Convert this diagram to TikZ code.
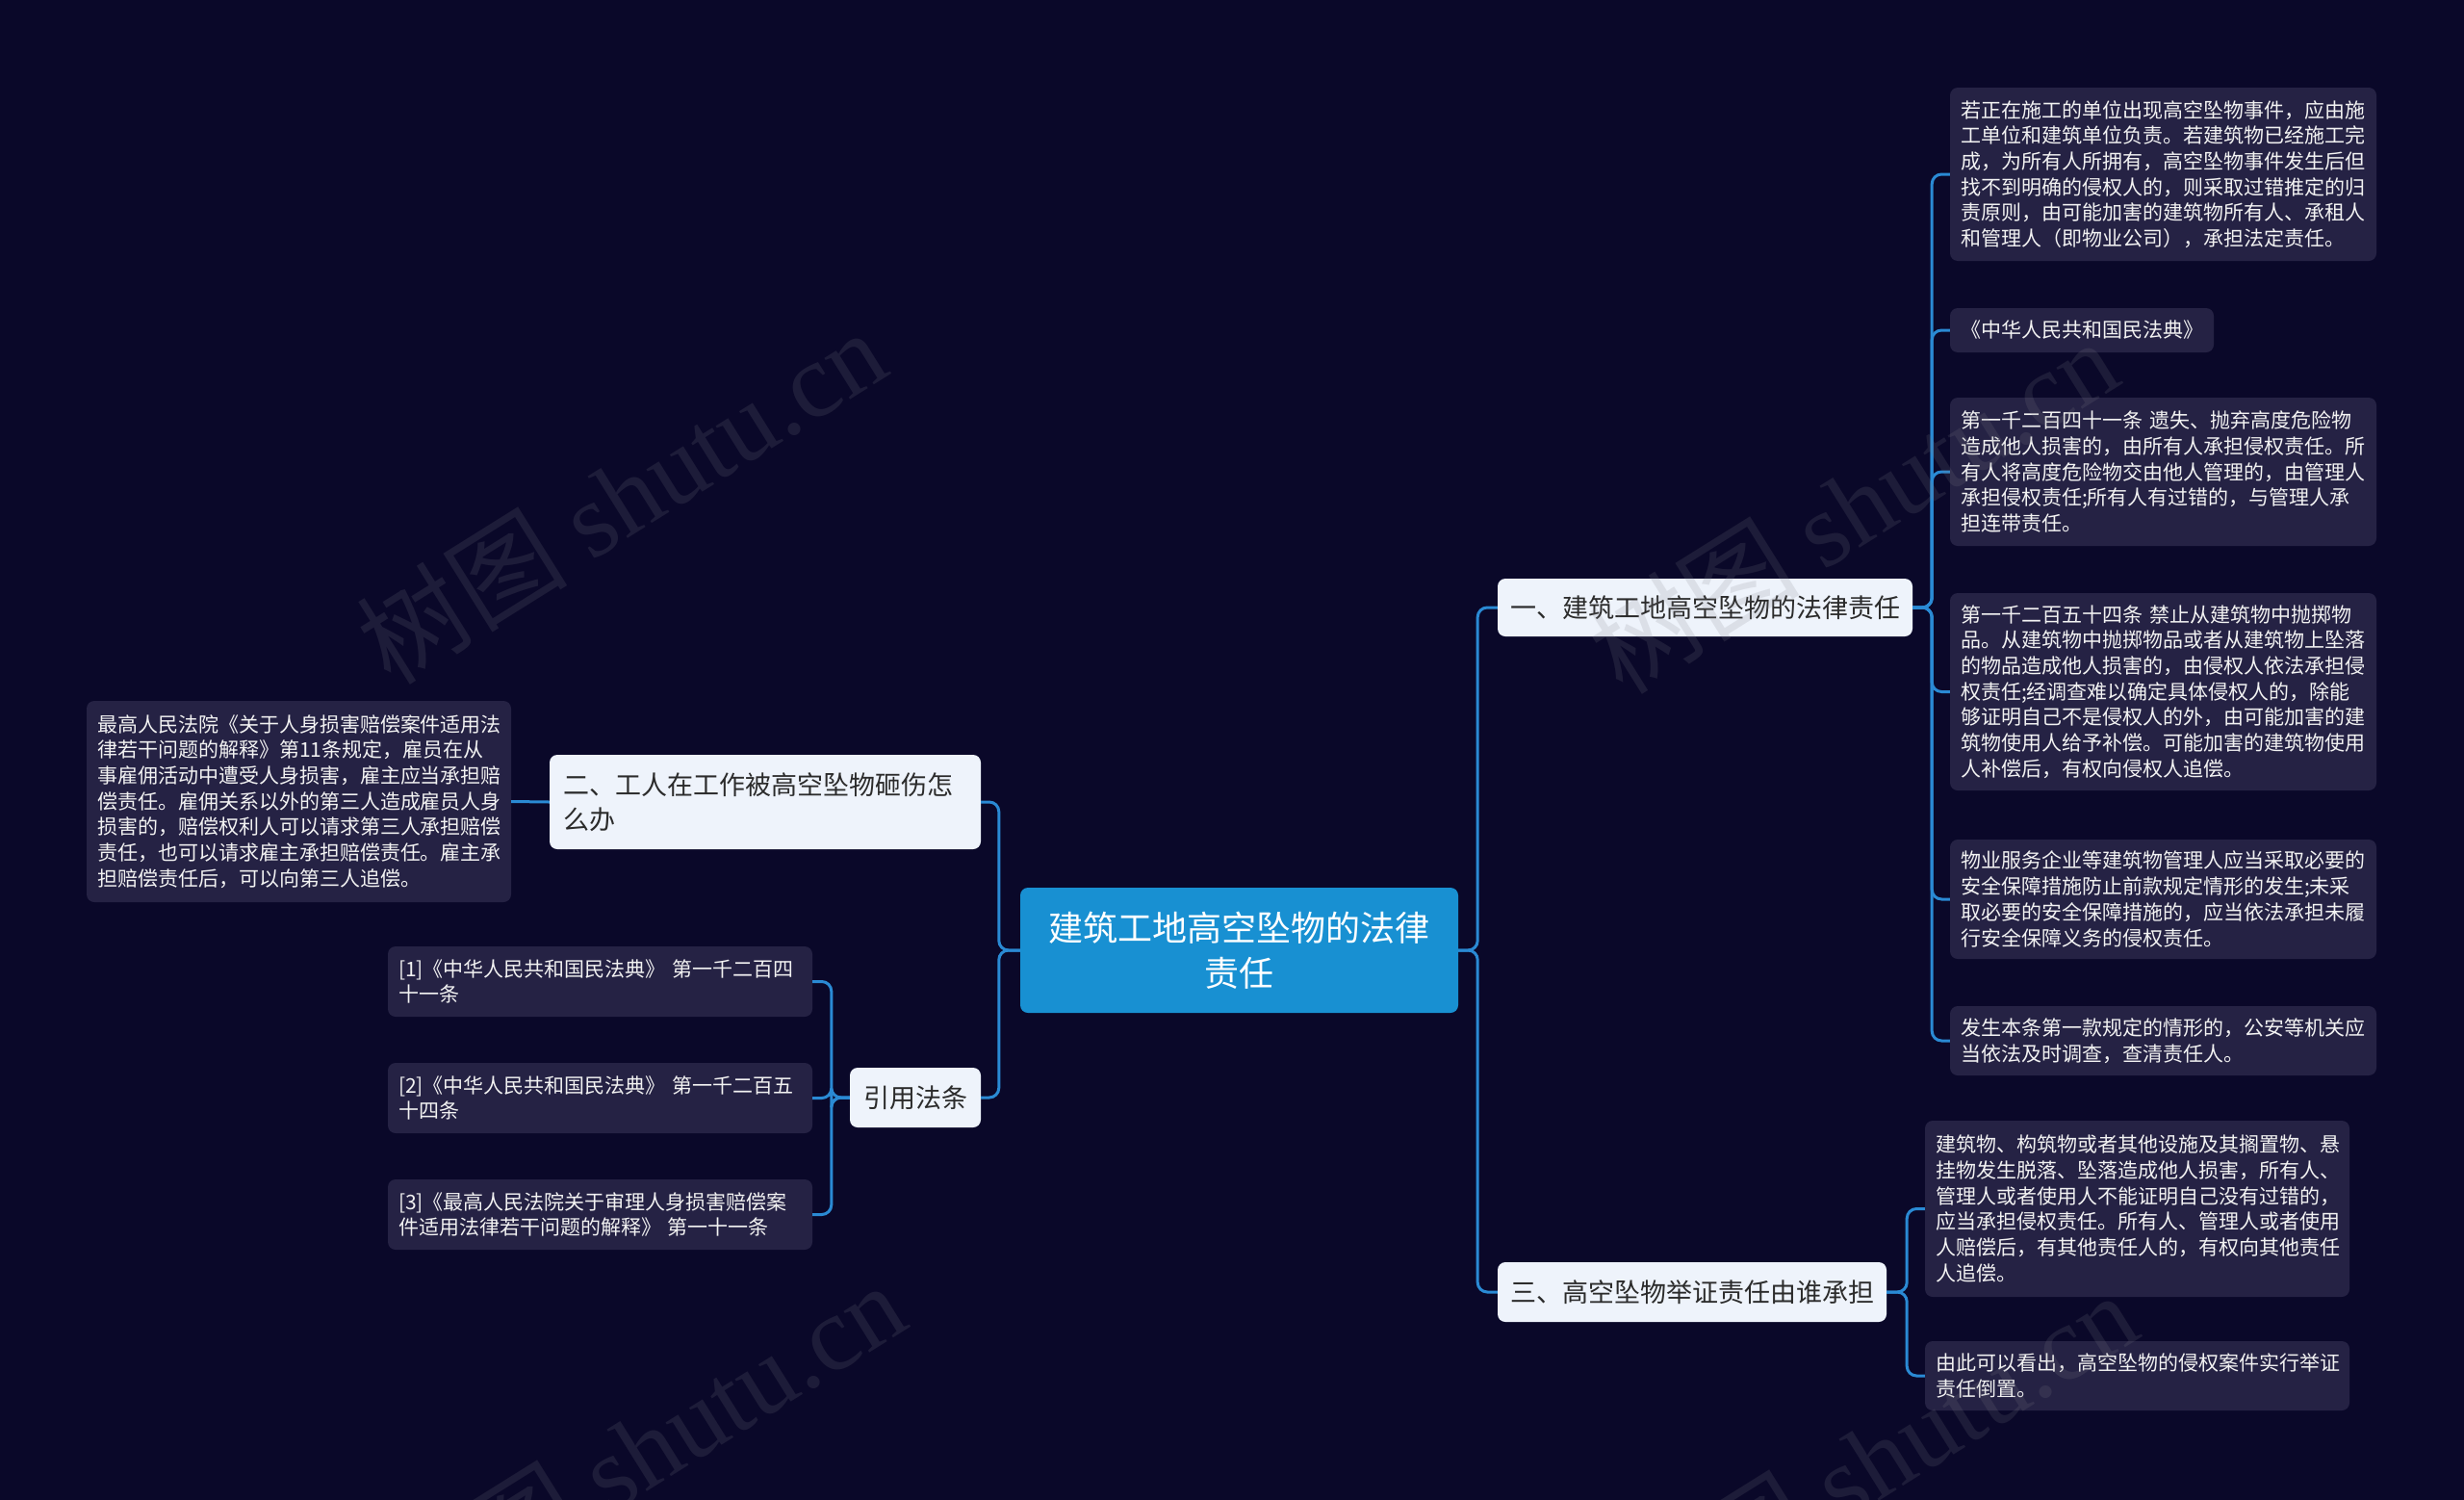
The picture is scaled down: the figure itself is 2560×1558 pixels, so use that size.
\documentclass[tikz,border=0pt]{standalone}
\usepackage{fontspec}
\newfontfamily\cjk{Noto Sans CJK SC}
\newfontfamily\wmserif{Liberation Serif}
\definecolor{bgc}{HTML}{0A0829}
\definecolor{rootc}{HTML}{1890D2}
\definecolor{linec}{HTML}{2A8AD4}
\definecolor{leafc}{HTML}{252244}
\definecolor{lightc}{HTML}{EEF3FB}
\definecolor{darktext}{HTML}{2B2B2B}
\definecolor{leaftext}{HTML}{F2F2F2}
\definecolor{wmc}{HTML}{808088}
\begin{document}
\begin{tikzpicture}[x=1pt,y=-1pt,
  leaf/.style={fill=leafc, rounded corners=8pt, text=leaftext,
    font=\cjk\fontsize{21}{26.7}\selectfont, align=left,
    inner xsep=11pt, inner ysep=0pt, anchor=center},
  lvl/.style={fill=lightc, rounded corners=8pt, text=darktext,
    font=\cjk\fontsize{27}{36}\selectfont,
    inner xsep=0pt, inner ysep=0pt, anchor=center},
  rootbox/.style={fill=rootc, rounded corners=8pt, text=white,
    font=\cjk\fontsize{36}{47}\selectfont, align=center,
    inner sep=0pt, anchor=center},
  conn/.style={draw=linec, line width=3pt, rounded corners=10pt},
  wm/.style={text=wmc, text opacity=0.17, font=\cjk\fontsize{110}{120}\selectfont, anchor=center, inner sep=0pt, rotate=32}
]
\fill[bgc] (0,0) rectangle (2560,1558);
\useasboundingbox (0,0) rectangle (2560,1558);

% root
\node[rootbox, minimum width=455pt, minimum height=130pt] (root) at (1287.5,987) {建筑工地高空坠物的法律\\责任};

% level 1
\node[lvl, minimum width=431pt, minimum height=60pt] (n1) at (1771.5,631) {一、建筑工地高空坠物的法律责任};
\node[lvl, minimum width=404pt, minimum height=62pt] (n3) at (1758,1342) {三、高空坠物举证责任由谁承担};
\node[lvl, align=left, text width=420pt, inner xsep=14pt, minimum height=98pt] (n2) at (795,833) {二、工人在工作被高空坠物砸伤怎\\么办};
\node[lvl, minimum width=136pt, minimum height=62pt] (yy) at (951,1140) {引用法条};

% leaves of n1
\node[leaf, text width=421pt, minimum height=180pt] (l1) at (2247.5,181) {若正在施工的单位出现高空坠物事件，应由施\\工单位和建筑单位负责。若建筑物已经施工完\\成，为所有人所拥有，高空坠物事件发生后但\\找不到明确的侵权人的，则采取过错推定的归\\责原则，由可能加害的建筑物所有人、承租人\\和管理人（即物业公司），承担法定责任。};
\node[leaf, text width=252pt, minimum height=46pt] (l2) at (2163,343) {《中华人民共和国民法典》};
\node[leaf, text width=421pt, minimum height=154pt] (l3) at (2247.5,490) {第一千二百四十一条 遗失、抛弃高度危险物\\造成他人损害的，由所有人承担侵权责任。所\\有人将高度危险物交由他人管理的，由管理人\\承担侵权责任;所有人有过错的，与管理人承\\担连带责任。};
\node[leaf, text width=421pt, minimum height=205pt] (l4) at (2247.5,718.5) {第一千二百五十四条 禁止从建筑物中抛掷物\\品。从建筑物中抛掷物品或者从建筑物上坠落\\的物品造成他人损害的，由侵权人依法承担侵\\权责任;经调查难以确定具体侵权人的，除能\\够证明自己不是侵权人的外，由可能加害的建\\筑物使用人给予补偿。可能加害的建筑物使用\\人补偿后，有权向侵权人追偿。};
\node[leaf, text width=421pt, minimum height=124pt] (l5) at (2247.5,934) {物业服务企业等建筑物管理人应当采取必要的\\安全保障措施防止前款规定情形的发生;未采\\取必要的安全保障措施的，应当依法承担未履\\行安全保障义务的侵权责任。};
\node[leaf, text width=421pt, minimum height=72pt] (l6) at (2247.5,1081) {发生本条第一款规定的情形的，公安等机关应\\当依法及时调查，查清责任人。};

% leaves of n3
\node[leaf, text width=419pt, minimum height=183pt] (l7) at (2220.5,1255.5) {建筑物、构筑物或者其他设施及其搁置物、悬\\挂物发生脱落、坠落造成他人损害，所有人、\\管理人或者使用人不能证明自己没有过错的，\\应当承担侵权责任。所有人、管理人或者使用\\人赔偿后，有其他责任人的，有权向其他责任\\人追偿。};
\node[leaf, text width=419pt, minimum height=72pt] (l8) at (2220.5,1429) {由此可以看出，高空坠物的侵权案件实行举证\\责任倒置。};

% leaf of n2
\node[leaf, text width=419pt, minimum height=209pt] (ll) at (310.5,832.5) {最高人民法院《关于人身损害赔偿案件适用法\\律若干问题的解释》第11条规定，雇员在从\\事雇佣活动中遭受人身损害，雇主应当承担赔\\偿责任。雇佣关系以外的第三人造成雇员人身\\损害的，赔偿权利人可以请求第三人承担赔偿\\责任，也可以请求雇主承担赔偿责任。雇主承\\担赔偿责任后，可以向第三人追偿。};

% references
\node[leaf, text width=419pt, minimum height=73pt] (r1) at (623.5,1019.5) {[1]《中华人民共和国民法典》 第一千二百四\\十一条};
\node[leaf, text width=419pt, minimum height=73pt] (r2) at (623.5,1140.5) {[2]《中华人民共和国民法典》 第一千二百五\\十四条};
\node[leaf, text width=419pt, minimum height=73pt] (r3) at (623.5,1261.5) {[3]《最高人民法院关于审理人身损害赔偿案\\件适用法律若干问题的解释》 第一十一条};

% connectors
\draw[conn] (root.east) -- ++(20,0) |- (n1.west);
\draw[conn] (root.east) -- ++(20,0) |- (n3.west);
\draw[conn] (root.west) -- ++(-22,0) |- (n2.east);
\draw[conn] (root.west) -- ++(-22,0) |- (yy.east);
\foreach \t in {l1,l2,l3,l4,l5,l6} \draw[conn] (n1.east) -- ++(20,0) |- (\t.west);
\foreach \t in {l7,l8} \draw[conn] (n3.east) -- ++(21,0) |- (\t.west);
\draw[conn] (n2.west) -- (ll.east);
\foreach \t in {r1,r2,r3} \draw[conn] (yy.west) -- ++(-19,0) |- (\t.east);

% watermarks (on top, translucent)
\node[wm] (wm1) at (645,515) {树图 {\wmserif shutu.cn}};
\node[wm] (wm2) at (1925,525) {树图 {\wmserif shutu.cn}};
\node[wm] (wm3) at (665,1505) {树图 {\wmserif shutu.cn}};
\node[wm] (wm4) at (1945,1515) {树图 {\wmserif shutu.cn}};
\end{tikzpicture}
\end{document}
